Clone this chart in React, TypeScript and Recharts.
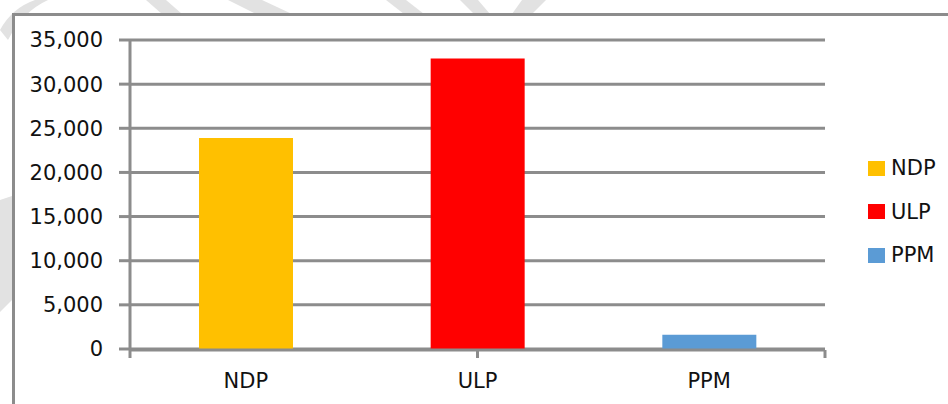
import { BarChart, Bar, Cell, XAxis, YAxis, CartesianGrid } from "recharts"

const parties = ["NDP", "ULP", "PPM"]
const votes = [23900, 32900, 1600]
const partyColors = ["#FFC000", "#FF0000", "#5B9BD5"]
const yTicks = [0, 5000, 10000, 15000, 20000, 25000, 30000, 35000]
const edgeTicks = [0, 1, 2, 3]

const data = parties.map((p, i) => ({ party: p, votes: votes[i] }))

const GRAY = "#8c8c8c"
const FONT = "'DejaVu Sans', sans-serif"

export default function App() {
  return (
    <div style={{ position: "absolute", left: 0, top: 0, width: 948, height: 404, overflow: "hidden", background: "#fff" }}>
      {/* faint watermark stripes behind the frame */}
      <svg width={948} height={404} style={{ position: "absolute", left: 0, top: 0 }}>
        <g fill="#e2e2e2">
          <path d="M0,30 Q12,8 35,0 L48,0 Q22,12 8,40 Z" />
          <path d="M146,0 L166,0 L182,14 L162,14 Z" />
          <path d="M228,0 L262,0 L292,14 L256,14 Z" />
          <path d="M386,0 L406,0 L424,14 L404,14 Z" />
          <path d="M460,0 L478,0 L490,14 L474,14 Z" />
          <path d="M522,0 L546,0 L532,14 L512,14 Z" />
          <path d="M0,200 L12,196 L12,300 L0,312 Z" />
        </g>
      </svg>

      <div style={{
        position: "absolute", left: 12, top: 13, width: 960, height: 420,
        border: `3px solid ${GRAY}`, background: "#fff", boxSizing: "border-box"
      }} />

      <div style={{ position: "absolute", left: 0, top: 0 }}>
        <BarChart width={948} height={404} data={data} margin={{ top: 40, right: 123, bottom: 53, left: 0 }}>
          <CartesianGrid xAxisId="cat" vertical={false} stroke={GRAY} strokeWidth={3} />
          <XAxis
            xAxisId="cat"
            dataKey="party"
            height={1}
            axisLine={false}
            tickLine={false}
            tickSize={0}
            tickMargin={24}
            tick={{ fill: "#111", fontSize: 21, fontFamily: FONT }}
          />
          <XAxis
            xAxisId="edge"
            type="number"
            domain={[0, 3]}
            ticks={edgeTicks}
            height={1}
            tickFormatter={() => ""}
            tickSize={8}
            axisLine={{ stroke: GRAY, strokeWidth: 3 }}
            tickLine={{ stroke: GRAY, strokeWidth: 3 }}
          />
          <YAxis
            width={130}
            domain={[0, 35000]}
            ticks={yTicks}
            tickFormatter={(v: number) => v.toLocaleString("en-US")}
            tickSize={11}
            tickMargin={16}
            axisLine={{ stroke: GRAY, strokeWidth: 3 }}
            tickLine={{ stroke: GRAY, strokeWidth: 3 }}
            tick={{ fill: "#111", fontSize: 21, fontFamily: FONT }}
          />
          <Bar xAxisId="cat" dataKey="votes" barSize={94} isAnimationActive={false}>
            {data.map((d, i) => (
              <Cell key={d.party} fill={partyColors[i]} />
            ))}
          </Bar>
        </BarChart>
      </div>

      <div style={{ position: "absolute", left: 868, top: 157, fontFamily: FONT, fontSize: 21, color: "#111" }}>
        {parties.map((p, i) => (
          <div key={p} style={{ display: "flex", alignItems: "center", height: 22, marginBottom: 21.5 }}>
            <span style={{ width: 17, height: 15, background: partyColors[i], marginRight: 6, display: "inline-block" }} />
            <span style={{ lineHeight: "22px" }}>{p}</span>
          </div>
        ))}
      </div>
    </div>
  )
}
